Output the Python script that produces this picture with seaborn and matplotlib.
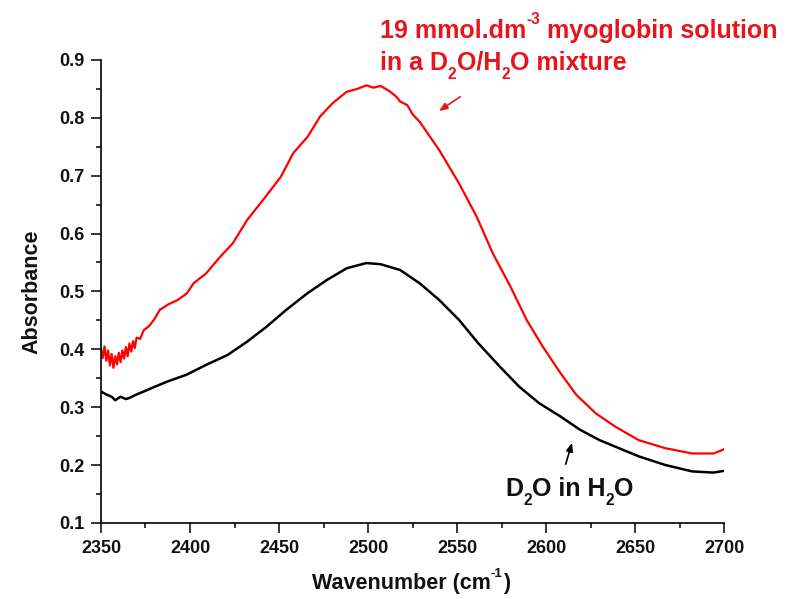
import matplotlib
matplotlib.use("Agg")
import matplotlib.pyplot as plt
import seaborn as sns
import pandas as pd
from matplotlib.transforms import offset_copy

# Red: myoglobin solution in D2O/H2O mixture
red_wn = [2350, 2351, 2352, 2353, 2354, 2355, 2356, 2357, 2358, 2359, 2360, 2361, 2362,
          2363, 2364, 2365, 2366, 2367, 2368, 2369, 2370, 2372, 2374, 2377, 2380, 2383,
          2388, 2393, 2398, 2402, 2409, 2417, 2424, 2432, 2441, 2451, 2458, 2466, 2473,
          2480, 2488, 2494, 2499, 2503, 2507, 2512, 2516, 2518, 2522, 2525, 2529, 2540,
          2551, 2561, 2570, 2580, 2589, 2598, 2608, 2617, 2628, 2639, 2652, 2667, 2682,
          2694, 2699, 2700]
red_abs = [0.400, 0.385, 0.405, 0.380, 0.398, 0.372, 0.392, 0.368, 0.388, 0.374, 0.394,
           0.378, 0.398, 0.384, 0.404, 0.388, 0.410, 0.396, 0.414, 0.402, 0.420, 0.418,
           0.433, 0.440, 0.452, 0.468, 0.478, 0.485, 0.496, 0.514, 0.531, 0.560, 0.583,
           0.623, 0.658, 0.698, 0.739, 0.767, 0.802, 0.825, 0.845, 0.850, 0.856, 0.852,
           0.855, 0.846, 0.836, 0.828, 0.822, 0.806, 0.793, 0.744, 0.687, 0.629, 0.566,
           0.508, 0.451, 0.405, 0.359, 0.321, 0.289, 0.266, 0.243, 0.229, 0.220, 0.220,
           0.226, 0.228]

# Black: D2O in H2O
blk_wn = [2350, 2353, 2356, 2358, 2361, 2364, 2366, 2370, 2374, 2380, 2387, 2398, 2409,
          2421, 2432, 2443, 2454, 2466, 2477, 2488, 2499, 2507, 2518, 2529, 2540, 2551,
          2562, 2574, 2585, 2596, 2608, 2619, 2630, 2641, 2652, 2667, 2682, 2694, 2700]
blk_abs = [0.327, 0.322, 0.318, 0.312, 0.318, 0.314, 0.316, 0.322, 0.327, 0.335, 0.344,
           0.356, 0.373, 0.390, 0.413, 0.439, 0.468, 0.497, 0.520, 0.540, 0.549, 0.547,
           0.537, 0.514, 0.485, 0.451, 0.410, 0.370, 0.335, 0.307, 0.284, 0.261, 0.243,
           0.229, 0.215, 0.200, 0.189, 0.187, 0.190]

x_ticks = [2350, 2400, 2450, 2500, 2550, 2600, 2650, 2700]
y_ticks = [0.1, 0.2, 0.3, 0.4, 0.5, 0.6, 0.7, 0.8, 0.9]

sns.set_style("ticks")
plt.rcParams['font.family'] = ['Liberation Sans', 'DejaVu Sans']
plt.rcParams['font.weight'] = 'bold'

fig = plt.figure(figsize=(7.95, 5.99), dpi=100)
ax = fig.add_axes([0.127, 0.127, 0.784, 0.773])

red_df = pd.DataFrame({"wn": red_wn, "abs": red_abs})
blk_df = pd.DataFrame({"wn": blk_wn, "abs": blk_abs})
sns.lineplot(data=red_df, x="wn", y="abs", ax=ax, color="#ff0000", linewidth=1.6,
             estimator=None, sort=False)
sns.lineplot(data=blk_df, x="wn", y="abs", ax=ax, color="black", linewidth=1.8,
             estimator=None, sort=False)

ax.set_xlim(2350, 2700)
ax.set_ylim(0.1, 0.9)
ax.set_xticks(x_ticks)
ax.set_yticks(y_ticks)
ax.set_xticklabels([str(v) for v in x_ticks], fontsize=13, fontweight='bold', color='#111111')
ax.set_yticklabels([f"{v:.1f}" for v in y_ticks], fontsize=13, fontweight='bold', color='#111111')
ax.set_xticks([2375, 2425, 2475, 2525, 2575, 2625, 2675], minor=True)
ax.set_yticks([0.15, 0.25, 0.35, 0.45, 0.55, 0.65, 0.75, 0.85], minor=True)
ax.tick_params(which='major', direction='out', length=7, width=1.1, color='black', pad=5)
ax.tick_params(which='minor', direction='out', length=3.5, width=1.1, color='black')
for s in ['top', 'right']:
    ax.spines[s].set_visible(False)
for s in ['left', 'bottom']:
    ax.spines[s].set_linewidth(1.2)
    ax.spines[s].set_color('black')
ax.grid(False)

ax.set_xlabel("")
ax.set_ylabel("Absorbance", fontsize=15.5, fontweight='bold', labelpad=12, color='#111111')

renderer = fig.canvas.get_renderer()


def rich_text(x_px, y_px, parts, color, size):
    """Draw text segments (text, kind) with kind in {'n','sup','sub'} in figure pixels."""
    trans = fig.transFigure
    x = x_px / 795
    y = 1 - y_px / 599
    dx = 0.0
    for txt, kind in parts:
        if kind == 'n':
            fs, dy = size, 0.0
        elif kind == 'sup':
            fs, dy = size * 0.62, size * 0.55
        else:
            fs, dy = size * 0.62, -size * 0.35
        t = fig.text(x, y, txt, color=color, fontsize=fs, fontweight='bold',
                     ha='left', va='baseline',
                     transform=offset_copy(trans, fig=fig, x=dx, y=dy, units='points'))
        bb = t.get_window_extent(renderer=renderer)
        dx += bb.width * 72.0 / fig.dpi


rich_text(312, 589, [("Wavenumber (cm", 'n'), ("-1", 'sup'), (")", 'n')], "#111111", 15.5)

red_c = "#e8141c"
rich_text(380, 38, [("19 mmol.dm", 'n'), ("-3", 'sup'), (" myoglobin solution", 'n')],
          red_c, 18)
rich_text(380, 70, [("in a D", 'n'), ("2", 'sub'), ("O/H", 'n'), ("2", 'sub'),
                    ("O mixture", 'n')], red_c, 18)
ax.annotate("", xy=(2538.5, 0.809), xytext=(2553, 0.839),
            arrowprops=dict(arrowstyle="-|>,head_length=0.5,head_width=0.2",
                            color=red_c, lw=1.2))

rich_text(505, 496, [("D", 'n'), ("2", 'sub'), ("O in H", 'n'), ("2", 'sub'), ("O", 'n')],
          "#111111", 18)
ax.annotate("", xy=(2615, 0.243), xytext=(2610.5, 0.197),
            arrowprops=dict(arrowstyle="-|>,head_length=0.5,head_width=0.2",
                            color="black", lw=1.2))

fig.savefig("out.png", dpi=100)
